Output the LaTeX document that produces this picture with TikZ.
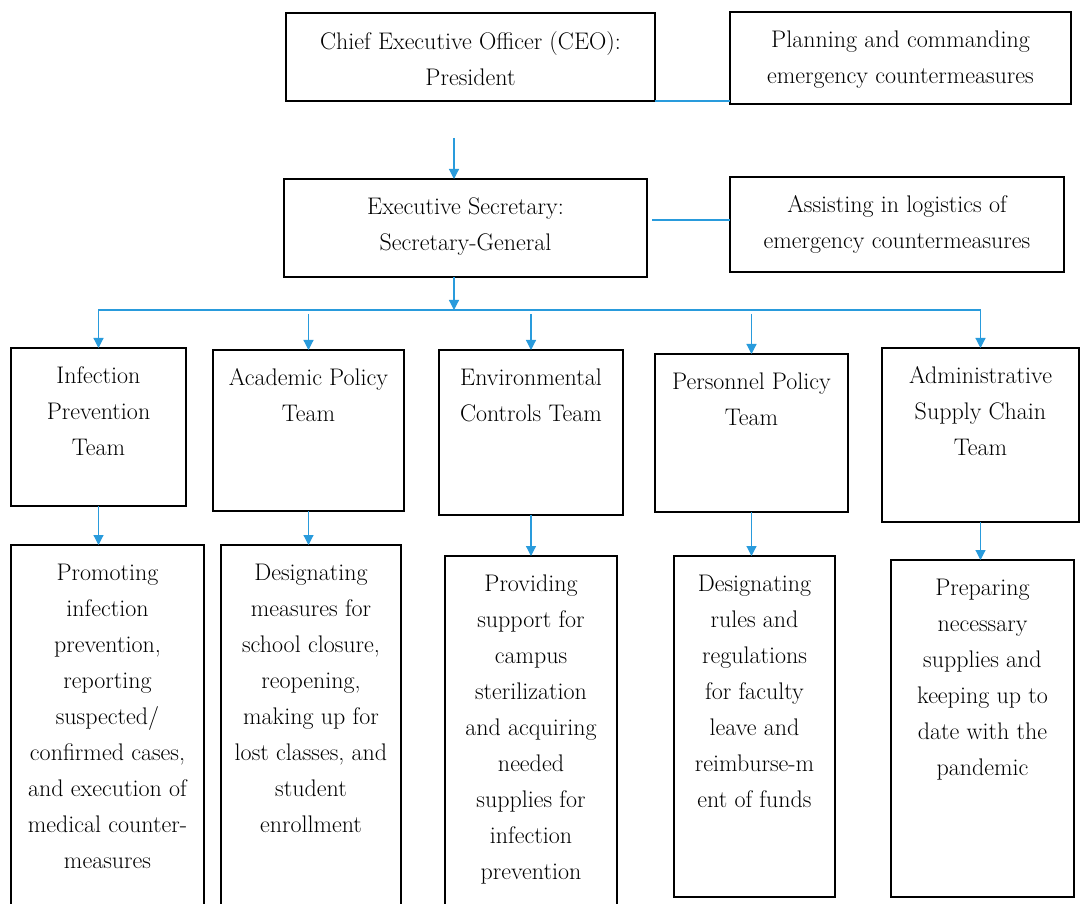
\documentclass[tikz,border=0pt]{standalone}
\usetikzlibrary{arrows.meta}
\definecolor{linkblue}{RGB}{41,155,220}
% text top-aligned inside a box of outer size #1 x #2 (in pt)
\newcommand{\boxtext}[3]{\parbox[c][\dimexpr#2pt-38pt\relax][t]{\dimexpr#1pt-8pt\relax}{\centering #3}}
\tikzset{
  box/.style={draw, line width=1.1pt, anchor=north west, inner xsep=4pt, inner ysep=19pt, outer sep=0pt, font=\fontsize{24}{36}\selectfont},
  link/.style={draw=linkblue, line width=1.2pt},
  arr/.style={link, -{Triangle[length=10pt,width=10pt]}}
}
\begin{document}
\begin{tikzpicture}[x=1pt, y=-1pt]
    \path[use as bounding box, fill=white] (0,0) rectangle (1080,904);

    % Leadership
    \node[box] (ceo) at (286,13) {\boxtext{369}{88}{Chief Executive Officer (CEO):\\President}};
    \node[box] (plan) at (730,12) {\boxtext{341}{92}{Planning and commanding\\emergency countermeasures}};
    \node[box] (exec) at (284,179) {\boxtext{363}{98}{Executive Secretary:\\Secretary-General}};
    \node[box] (assist) at (730,177) {\boxtext{334}{95}{Assisting in logistics of\\emergency countermeasures}};

    % Teams
    \foreach \i/\x/\y/\w/\h/\txt in {
        1/11/348/175/158/{Infection\\Prevention\\Team},
        2/213/350/191/161/{Academic Policy\\Team},
        3/439/350/184/165/{Environmental\\Controls Team},
        4/655/354/193/158/{Personnel Policy\\Team},
        5/882/348/197/174/{Administrative\\Supply Chain\\Team}} {
        \node[box] (t\i) at (\x,\y) {\boxtext{\w}{\h}{\txt}};
      }

    % Duties
    \foreach \i/\x/\y/\w/\h/\txt in {
        1/11/545/193/370/{Promoting\\infection\\prevention,\\reporting\\suspected/\\confirmed cases,\\and execution of\\medical counter-\\measures},
        2/221/545/180/370/{Designating\\measures for\\school closure,\\reopening,\\making up for\\lost classes, and\\student\\enrollment},
        3/445/556/172/359/{Providing\\support for\\campus\\sterilization\\and acquiring\\needed\\supplies for\\infection\\prevention},
        4/674/556/161/341/{Designating\\rules and\\regulations\\for faculty\\leave and\\reimburse-m\\ent of funds},
        5/891/560/183/337/{Preparing\\necessary\\supplies and\\keeping up to\\date with the\\pandemic}} {
        \node[box] (d\i) at (\x,\y) {\boxtext{\w}{\h}{\txt}};
      }

    % Connectors
    \draw[link] (ceo.south east) -- (ceo.south east -| plan.west);
    \coordinate (down) at (454,138);
    \draw[arr] (down) -- (down |- exec.north);
    \coordinate (side) at (652,220);
    \draw[link] (side) -- (side -| assist.west);
    \coordinate (bus) at (454,310);
    \draw[arr] (bus |- exec.south) -- (bus);
    \draw[arr] (bus) -| (t1.north);
    \draw[arr] (bus) -| (t5.north);
    \foreach \i in {2,3,4} {
        \draw[arr] ([yshift=-4pt]bus -| t\i.north) -- (t\i.north);
      }
    \foreach \i in {1,...,5} {
        \draw[arr] (t\i.south) -- (t\i.south |- d\i.north);
      }
  \end{tikzpicture}
\end{document}
